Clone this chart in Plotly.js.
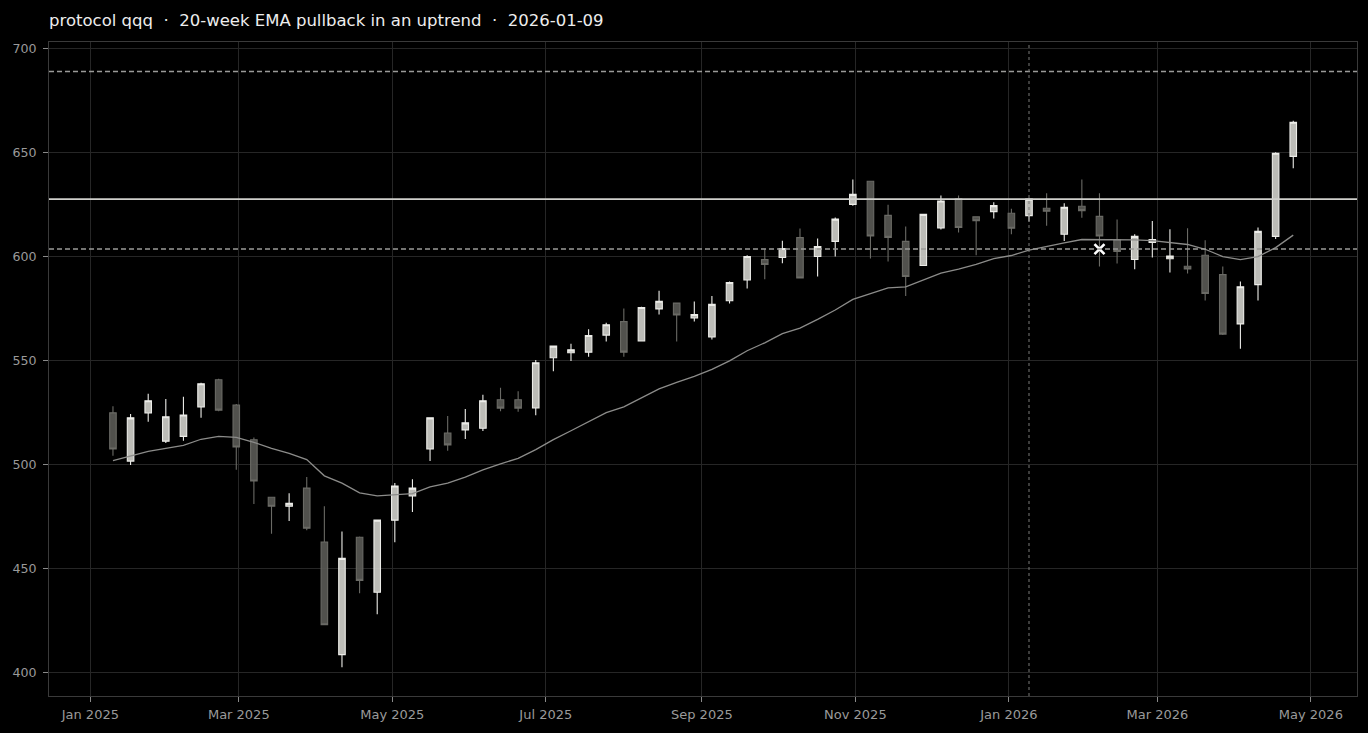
<!DOCTYPE html>
<html>
<head>
<meta charset="utf-8">
<script src="https://cdn.plot.ly/plotly-3.0.1.min.js"></script>
<style>
html, body { margin: 0; padding: 0; background: #000000; }
#chart { width: 1368px; height: 733px; }
</style>
</head>
<body>
<div id="chart"></div>
<script>
const weeks = [
  '2025-01-10','2025-01-17','2025-01-24','2025-01-31','2025-02-07','2025-02-14','2025-02-21','2025-02-28',
  '2025-03-07','2025-03-14','2025-03-21','2025-03-28','2025-04-04','2025-04-11','2025-04-18','2025-04-25',
  '2025-05-02','2025-05-09','2025-05-16','2025-05-23','2025-05-30','2025-06-06','2025-06-13','2025-06-20',
  '2025-06-27','2025-07-04','2025-07-11','2025-07-18','2025-07-25','2025-08-01','2025-08-08','2025-08-15',
  '2025-08-22','2025-08-29','2025-09-05','2025-09-12','2025-09-19','2025-09-26','2025-10-03','2025-10-10',
  '2025-10-17','2025-10-24','2025-10-31','2025-11-07','2025-11-14','2025-11-21','2025-11-28','2025-12-05',
  '2025-12-12','2025-12-19','2025-12-26','2026-01-02','2026-01-09','2026-01-16','2026-01-23','2026-01-30',
  '2026-02-06','2026-02-13','2026-02-20','2026-02-27','2026-03-06','2026-03-13','2026-03-20','2026-03-27',
  '2026-04-03','2026-04-10','2026-04-17','2026-04-24'
];
const openP = [
  524.8,501.6,524.8,511.2,513.5,527.7,540.7,528.6,511.9,484.2,479.9,488.6,462.6,408.5,465.0,438.5,
  473.2,484.8,507.4,515.1,516.6,517.4,531.1,531.1,527.2,551.3,553.7,554.0,562.2,568.7,559.4,574.8,
  577.6,570.5,561.3,578.7,588.7,598.5,599.5,609.1,600.0,607.3,625.1,636.2,619.8,607.3,595.7,613.8,
  627.8,619.1,621.6,620.8,619.7,623.2,610.7,624.2,619.3,608.1,598.6,606.8,598.9,595.3,600.6,591.3,
  567.6,586.5,609.7,648.2
];
const highP = [
  528.0,524.3,534.0,531.5,532.5,539.3,541.2,529.1,513.0,484.5,486.1,493.9,479.9,467.7,465.3,473.5,
  491.1,492.9,522.6,523.3,526.7,533.5,536.9,535.2,550.2,557.2,558.1,565.0,568.2,575.0,575.8,583.5,
  577.9,578.4,581.0,588.0,600.6,603.5,607.6,613.5,608.7,618.8,637.1,636.5,624.9,614.5,620.6,629.4,
  629.4,619.4,626.1,623.0,627.9,630.5,625.6,637.1,630.5,617.8,610.7,617.1,613.1,613.6,607.8,595.2,
  588.0,614.0,650.2,665.3
];
const lowP = [
  504.2,499.7,520.5,510.3,511.4,522.4,525.6,497.4,480.9,466.6,472.8,468.3,422.6,402.4,438.0,427.9,
  462.6,477.1,501.6,506.6,512.2,516.1,525.6,525.3,523.7,544.8,549.7,551.8,559.1,551.8,559.1,572.1,
  559.1,568.7,560.1,577.4,584.6,589.1,596.8,589.5,590.4,600.0,624.4,599.0,597.6,581.0,595.4,613.0,
  611.6,600.6,618.3,610.7,616.8,614.8,607.5,618.7,595.2,596.7,593.9,599.5,592.3,591.8,578.9,562.2,
  555.6,578.8,608.4,642.5
];
const closeP = [
  507.4,522.4,530.6,522.9,523.8,538.8,526.1,508.4,492.0,479.9,481.3,469.3,422.9,454.8,444.2,473.2,
  489.6,488.6,522.4,509.4,520.0,530.6,527.1,527.1,548.9,556.9,555.1,562.0,567.2,554.0,575.5,578.5,
  571.9,572.1,577.0,587.5,600.0,596.2,603.9,589.7,604.8,618.0,629.9,609.9,609.2,590.4,620.3,626.7,
  614.0,617.2,624.5,613.6,627.6,621.8,623.7,622.1,609.9,602.5,609.7,608.2,600.2,594.0,582.2,562.7,
  585.5,612.1,649.7,664.6
];
const ema20 = [
  501.8,503.9,506.3,507.7,509.2,512.1,513.5,513.0,510.6,507.7,505.3,502.3,494.5,491.0,486.3,484.9,
  485.4,485.9,489.2,491.0,493.9,497.4,500.3,502.9,507.1,511.9,516.2,520.6,524.9,527.7,532.2,536.3,
  539.5,542.4,545.7,549.8,554.7,558.5,562.9,565.6,569.8,574.3,579.4,582.3,584.9,585.4,588.6,592.0,
  593.9,596.2,599.0,600.5,603.1,605.0,606.6,608.2,608.2,608.0,608.0,607.7,606.8,605.8,603.5,600.0,
  598.5,600.0,604.3,610.3
];
const signalDate = '2026-01-09';
const entryLevel = 627.6;
const stopLevel = 603.6;
const targetLevel = 689.0;
const stopHitDate = '2026-02-06';
const titleText = 'protocol qqq  \u00b7  20-week EMA pullback in an uptrend  \u00b7  2026-01-09';
const yTicks = [400, 450, 500, 550, 600, 650, 700];

const FONT = 'DejaVu Sans, Verdana, sans-serif';

const traces = [
  {
    type: 'scatter', mode: 'lines', x: weeks, y: ema20,
    line: { color: '#8c8c8a', width: 1.3 }, hoverinfo: 'skip'
  },
  {
    type: 'candlestick', x: weeks, open: openP, high: highP, low: lowP, close: closeP,
    whiskerwidth: 0,
    increasing: { line: { color: '#ececE8', width: 1.1 }, fillcolor: 'rgba(214,214,208,0.88)' },
    decreasing: { line: { color: '#6a6a65', width: 1.1 }, fillcolor: 'rgba(88,88,84,0.92)' },
    hoverinfo: 'skip'
  },
  {
    type: 'scatter', mode: 'markers', x: [stopHitDate], y: [stopLevel],
    marker: { symbol: 'x-thin', size: 10, color: '#ffffff', line: { color: '#ffffff', width: 2.6 } },
    hoverinfo: 'skip'
  }
];

const layout = {
  width: 1368, height: 733, autosize: false,
  paper_bgcolor: '#000000', plot_bgcolor: '#000000',
  margin: { l: 49, r: 11, t: 42, b: 37 },
  showlegend: false, hovermode: false,
  boxgap: 0.47,
  title: {
    text: titleText,
    font: { family: FONT, size: 16.5, color: '#ededed' },
    xref: 'paper', x: 0, xanchor: 'left',
    yref: 'container', y: 1 - 20 / 733, yanchor: 'middle'
  },
  xaxis: {
    type: 'date',
    range: ['2024-12-15 14:00', '2026-05-19 08:00'],
    tick0: '2025-01-01', dtick: 'M2', tickformat: '%b %Y',
    ticks: 'outside', ticklen: 5, tickcolor: '#8a8a8a', tickwidth: 1,
    tickfont: { family: FONT, size: 13, color: '#9a9a9a' },
    ticklabelstandoff: 1,
    showgrid: true, gridcolor: '#262626', gridwidth: 1,
    showline: true, mirror: true, linecolor: '#3a3a3a', linewidth: 1,
    zeroline: false,
    rangeslider: { visible: false },
    fixedrange: true
  },
  yaxis: {
    range: [388.6, 703.2],
    tickvals: yTicks,
    ticks: 'outside', ticklen: 5, tickcolor: '#8a8a8a', tickwidth: 1,
    tickfont: { family: FONT, size: 12.6, color: '#9a9a9a' },
    ticklabelstandoff: 4,
    showgrid: true, gridcolor: '#262626', gridwidth: 1,
    showline: true, mirror: true, linecolor: '#3a3a3a', linewidth: 1,
    zeroline: false, fixedrange: true
  },
  shapes: [
    { type: 'line', xref: 'paper', x0: 0, x1: 1, yref: 'y', y0: targetLevel, y1: targetLevel,
      line: { color: '#9a9a98', width: 1.4, dash: '5px,3px' }, layer: 'above' },
    { type: 'line', xref: 'paper', x0: 0, x1: 1, yref: 'y', y0: entryLevel, y1: entryLevel,
      line: { color: '#cfcfcb', width: 1.6 }, layer: 'above' },
    { type: 'line', xref: 'paper', x0: 0, x1: 1, yref: 'y', y0: stopLevel, y1: stopLevel,
      line: { color: '#9a9a98', width: 1.4, dash: '5px,3px' }, layer: 'above' },
    { type: 'line', xref: 'x', x0: signalDate, x1: signalDate, yref: 'paper', y0: 0, y1: 1,
      line: { color: '#7a7a78', width: 1, dash: 'dot' }, layer: 'above' }
  ]
};

Plotly.newPlot('chart', traces, layout, { staticPlot: true, displayModeBar: false });
</script>
</body>
</html>
